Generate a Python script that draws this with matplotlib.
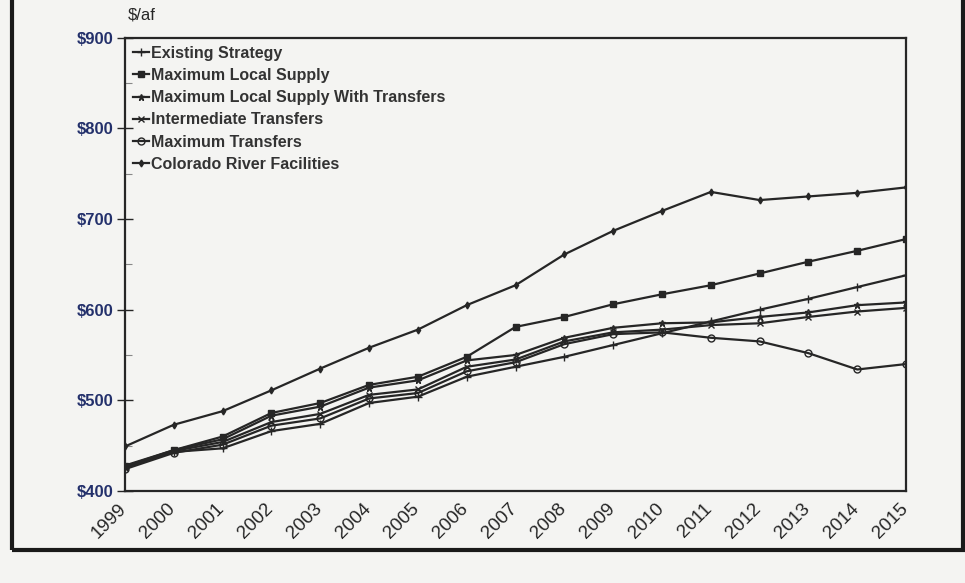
#!/usr/bin/python3

import numpy as np
import matplotlib.pyplot as plt
from matplotlib.patches import Rectangle
from matplotlib.transforms import ScaledTranslation

plt.rcParams['font.family'] = ['Liberation Sans', 'DejaVu Sans']

years = list(range(1999, 2016))

existing = [426, 443, 447, 466, 474, 497, 504, 526, 537, 548, 561, 574, 587, 600, 612, 625, 638]
max_local = [428, 445, 460, 486, 497, 517, 526, 548, 581, 592, 606, 617, 627, 640, 653, 665, 678]
max_local_transfers = [427, 445, 457, 483, 493, 514, 522, 544, 550, 569, 580, 585, 586, 592, 597, 605, 608]
intermediate = [425, 444, 454, 476, 485, 506, 512, 537, 545, 565, 575, 578, 583, 585, 592, 598, 602]
max_transfers = [424, 442, 451, 472, 480, 502, 508, 532, 542, 562, 573, 575, 569, 565, 552, 534, 540]
colorado = [449, 473, 488, 511, 535, 558, 578, 605, 627, 661, 687, 709, 730, 721, 725, 729, 735]

labels = ["Existing Strategy", "Maximum Local Supply", "Maximum Local Supply With Transfers",
          "Intermediate Transfers", "Maximum Transfers", "Colorado River Facilities"]
series = [existing, max_local, max_local_transfers, intermediate, max_transfers, colorado]
markers = ['+', 's', '*', 'x', 'o', 'd']
msizes = [6, 5, 5, 5, 5, 3.5]

bg = '#f4f4f2'
ink = '#262626'

fig = plt.figure(figsize=(9.65, 5.83), dpi=100, facecolor=bg)
ax = fig.add_axes([0.1295, 0.158, 0.8095, 0.777], facecolor=bg)

for vals, lab, m, ms in zip(series, labels, markers, msizes):
    mfc = ink if m in ('s', 'd') else 'none'
    ax.plot(years, vals, color=ink, lw=1.6, marker=m, ms=ms, mew=1.0,
            mfc=mfc, mec=ink, label=lab)

ax.set_xlim(1999, 2015)
ax.set_ylim(400, 900)
ax.set_yticks(np.arange(400, 901, 100))
ax.set_yticklabels(['$%d' % v for v in range(400, 901, 100)],
                   color='#23306b', fontsize=12, fontweight='bold')
ax.set_yticks(np.arange(450, 900, 100), minor=True)
ax.tick_params(axis='y', which='major', direction='inout', length=12, width=1.0, colors=ink,
               labelcolor='#23306b', pad=2)
ax.tick_params(axis='y', which='minor', direction='in', length=5, width=0.8, colors='#888888')
ax.set_xticks(years)
ax.set_xticklabels([str(y) for y in years], rotation=45, ha='right',
                   rotation_mode='anchor', fontsize=13.5, color=ink)
ax.tick_params(axis='x', length=0, pad=7)
shift = ScaledTranslation(-7 / 100, 0, fig.dpi_scale_trans)
for t in ax.get_xticklabels():
    t.set_transform(t.get_transform() + shift)

for s in ax.spines.values():
    s.set_color(ink)
    s.set_linewidth(1.6)

ax.text(0.003, 1.035, '$/af', transform=ax.transAxes, fontsize=12, color=ink,
        ha='left', va='bottom')

leg = ax.legend(loc='upper left', frameon=False, handlelength=1.0, handletextpad=0.1,
                borderaxespad=0.2, labelspacing=0.45, borderpad=0.3,
                prop={'size': 11.5, 'weight': 'bold'})
for t in leg.get_texts():
    t.set_color('#333333')

# page frame, open at the top
fig.patches.append(Rectangle((12 / 965, 1 - 550 / 583), 951 / 965, 600 / 583,
                             transform=fig.transFigure, fill=False, ec='#1a1a1a', lw=3.0))

fig.savefig('out.png', dpi=100, facecolor=bg)
